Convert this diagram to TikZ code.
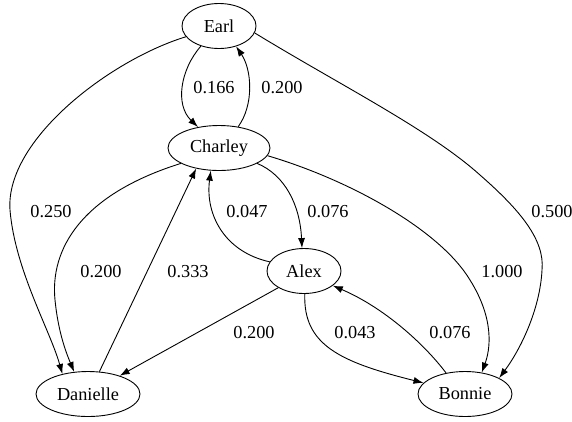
\documentclass[tikz,border=0pt]{standalone}
\usepackage{fontspec}
\setmainfont{Liberation Serif}
\usetikzlibrary{shapes.geometric,arrows.meta}

\begin{document}
\begin{tikzpicture}[x=1pt,y=-1pt]
\tikzstyle{every node}+=[inner sep=0pt]
\tikzstyle{state}=[draw, ellipse, line width=0.9pt, minimum height=45pt, font=\fontsize{18.3}{20}\selectfont]
\tikzstyle{edge}=[-{Latex[length=10pt,width=7pt]}, line width=0.9pt]
\tikzstyle{weight}=[font=\fontsize{18.3}{20}\selectfont]
\useasboundingbox (0,0) rectangle (572,421);
\node [state, minimum width=74pt] (earl) at (219,26) {Earl};
\node [state, minimum width=102pt] (charley) at (219,148) {Charley};
\node [state, minimum width=74pt] (alex) at (304,271) {Alex};
\node [state, minimum width=104pt] (danielle) at (88,394) {Danielle};
\node [state, minimum width=94pt] (bonnie) at (465,394) {Bonnie};
% edges out of earl
\draw [edge] (earl.198) .. controls (110,60) and (5,140) .. (10,210) .. controls (15,270) and (50,330) .. (danielle.142);
\draw [edge] (earl.228) .. controls (180,70) and (175,105) .. (charley.135);
\draw [edge] (earl.-11) .. controls (340,85) and (430,130) .. (480,175) .. controls (520,210) and (545,240) .. (542,270) .. controls (540,310) and (520,350) .. (bonnie.25);
% edges out of charley
\draw [edge] (charley.48) .. controls (254,105) and (252,70) .. (earl.-50);
\draw [edge] (charley.202) .. controls (80,195) and (50,250) .. (55,300) .. controls (58,330) and (65,350) .. (danielle.122);
\draw [edge] (charley.-22) .. controls (285,175) and (300,205) .. (alex.95);
\draw [edge] (charley.-9) .. controls (350,180) and (440,230) .. (470,280) .. controls (495,320) and (490,350) .. (bonnie.52);
% edges out of alex
\draw [edge] (alex.165) .. controls (225,252) and (205,215) .. (charley.250);
\draw [edge] (alex.213) -- (danielle.30);
\draw [edge] (alex.-88) .. controls (303,345) and (340,362) .. (bonnie.165);
% edges back
\draw [edge] (danielle.63) -- (charley.222);
\draw [edge] (bonnie.132) .. controls (425,345) and (385,308) .. (alex.-27);
% weights
\node [weight] (w1) at (51,212) {0.250};
\node [weight] (w2) at (214,88) {0.166};
\node [weight] (w3) at (282,88) {0.200};
\node [weight] (w4) at (552,212) {0.500};
\node [weight] (w5) at (101,272) {0.200};
\node [weight] (w6) at (188,272) {0.333};
\node [weight] (w7) at (247,212) {0.047};
\node [weight] (w8) at (328,212) {0.076};
\node [weight] (w9) at (502,272) {1.000};
\node [weight] (w10) at (254,333) {0.200};
\node [weight] (w11) at (355,333) {0.043};
\node [weight] (w12) at (450,333) {0.076};
\end{tikzpicture}
\end{document}
